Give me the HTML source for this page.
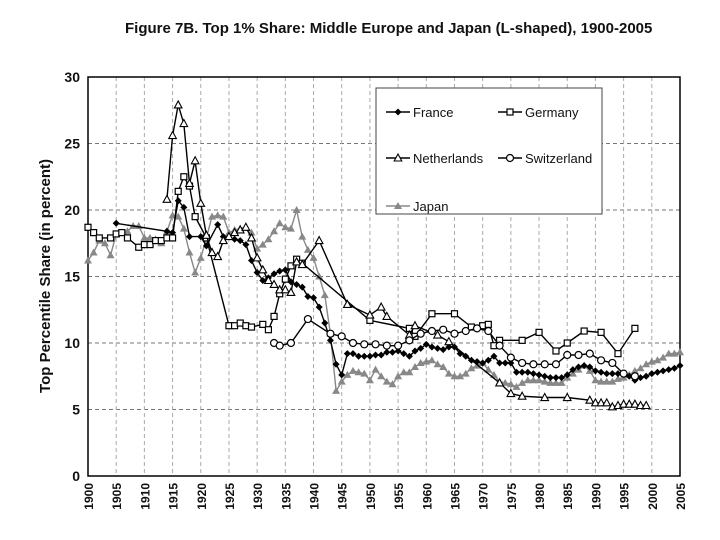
<!DOCTYPE html>
<html><head><meta charset="utf-8"><style>
body{margin:0;background:#fff;}
svg{display:block;font-family:"Liberation Sans",Arial,sans-serif;}
</style></head><body>
<svg id="chart" width="720" height="540" viewBox="0 0 720 540" xmlns="http://www.w3.org/2000/svg">
<text x="125" y="33" font-size="15" font-weight="bold" fill="#111">Figure 7B. Top 1% Share: Middle Europe and Japan (L-shaped), 1900-2005</text>
<text transform="translate(50,276) rotate(-90)" text-anchor="middle" font-size="15" font-weight="bold" fill="#111">Top Percentile Share (in percent)</text>
<g id="grid"></g>
<g id="axes"></g>
<g id="series"></g>
<g id="legend"></g>
</svg>
<script>
const yTicks=[0,5,10,15,20,25,30];
const xTicks=[1900,1905,1910,1915,1920,1925,1930,1935,1940,1945,1950,1955,1960,1965,1970,1975,1980,1985,1990,1995,2000,2005];
const franceYears=[1905,1914,1915,1916,1917,1918,1920,1921,1923,1924,1926,1927,1928,1929,1930,1931,1932,1933,1934,1935,1936,1937,1938,1939,1940,1941,1942,1943,1944,1945,1946,1947,1948,1949,1950,1951,1952,1953,1954,1955,1956,1957,1958,1959,1960,1961,1962,1963,1964,1965,1966,1967,1968,1969,1970,1971,1972,1973,1974,1975,1976,1977,1978,1979,1980,1981,1982,1983,1984,1985,1986,1987,1988,1989,1990,1991,1992,1993,1994,1995,1996,1997,1998,1999,2000,2001,2002,2003,2004,2005];
const franceValues=[19.0,18.4,18.3,20.7,20.2,18.0,18.0,17.3,18.9,18.0,17.8,17.7,17.4,16.2,15.3,14.7,14.9,15.2,15.4,15.5,14.6,14.4,14.2,13.5,13.4,12.7,11.5,10.2,8.4,7.6,9.2,9.2,9.0,9.0,9.0,9.1,9.1,9.3,9.3,9.4,9.2,9.0,9.4,9.6,9.9,9.7,9.6,9.5,9.7,9.7,9.2,9.0,8.7,8.6,8.5,8.7,9.0,8.5,8.5,8.5,7.8,7.8,7.8,7.7,7.6,7.5,7.4,7.4,7.4,7.6,8.0,8.2,8.3,8.2,7.9,7.8,7.7,7.7,7.7,7.7,7.5,7.2,7.4,7.5,7.7,7.8,7.9,8.0,8.1,8.3];
const germanyYears=[1900,1901,1902,1904,1905,1906,1907,1909,1910,1911,1912,1913,1914,1915,1916,1917,1918,1919,1921,1925,1926,1927,1928,1929,1931,1932,1933,1934,1935,1936,1937,1938,1950,1957,1958,1961,1965,1968,1970,1971,1972,1973,1977,1980,1983,1985,1988,1991,1994,1997];
const germanyValues=[18.7,18.3,17.9,17.9,18.2,18.3,17.9,17.2,17.4,17.4,17.7,17.7,17.9,17.9,21.4,22.5,21.8,19.5,17.9,11.3,11.3,11.5,11.3,11.2,11.4,11.0,12.0,13.7,14.8,15.8,16.3,16.0,11.7,11.1,10.5,12.2,12.2,11.2,11.3,11.4,9.8,10.2,10.2,10.8,9.4,10.0,10.9,10.8,9.2,11.1];
const netherlandsYears=[1914,1915,1916,1917,1918,1919,1920,1921,1922,1923,1924,1925,1926,1927,1928,1929,1930,1931,1932,1933,1934,1935,1936,1937,1938,1941,1946,1950,1952,1953,1957,1958,1962,1964,1973,1975,1977,1981,1985,1989,1990,1991,1992,1993,1994,1995,1996,1997,1998,1999];
const netherlandsValues=[20.8,25.6,27.9,26.5,22.0,23.7,20.5,18.1,16.8,16.5,17.7,18.0,18.3,18.5,18.7,17.9,16.4,15.5,14.7,14.4,14.0,14.0,13.8,16.1,15.9,17.7,12.9,12.1,12.7,12.0,10.6,11.3,10.6,10.1,7.0,6.2,6.0,5.9,5.9,5.7,5.5,5.5,5.5,5.2,5.3,5.4,5.4,5.4,5.3,5.3];
const switzerlandYears=[1933,1934,1936,1939,1943,1945,1947,1949,1951,1953,1955,1957,1959,1961,1963,1965,1967,1969,1971,1973,1975,1977,1979,1981,1983,1985,1987,1989,1991,1993,1995,1997];
const switzerlandValues=[10.0,9.8,10.0,11.8,10.7,10.5,10.0,9.9,9.9,9.8,9.8,10.2,10.7,10.9,11.0,10.7,10.9,11.1,10.9,9.8,8.9,8.5,8.4,8.4,8.4,9.1,9.1,9.2,8.7,8.5,7.7,7.5];
const japanYears=[1900,1901,1902,1903,1904,1905,1906,1907,1908,1909,1910,1911,1912,1913,1914,1915,1916,1917,1918,1919,1920,1921,1922,1923,1924,1925,1926,1927,1928,1929,1930,1931,1932,1933,1934,1935,1936,1937,1938,1939,1940,1941,1942,1943,1944,1945,1946,1947,1948,1949,1950,1951,1952,1953,1954,1955,1956,1957,1958,1959,1960,1961,1962,1963,1964,1965,1966,1967,1968,1969,1970,1971,1972,1973,1974,1975,1976,1977,1978,1979,1980,1981,1982,1983,1984,1985,1986,1987,1988,1989,1990,1991,1992,1993,1994,1995,1996,1997,1998,1999,2000,2001,2002,2003,2004,2005];
const japanValues=[16.2,16.8,17.7,17.5,16.6,18.2,18.3,18.4,18.8,18.8,17.9,17.9,17.8,17.5,18.4,19.6,19.5,18.6,16.8,15.3,16.4,17.9,19.5,19.6,19.5,18.3,18.5,18.6,18.7,18.3,17.1,17.4,17.8,18.4,19.0,18.7,18.6,20.0,18.0,17.0,16.4,15.0,13.6,10.7,6.4,7.1,7.6,7.9,7.8,7.7,7.2,8.0,7.5,7.1,6.9,7.5,7.8,7.8,8.2,8.5,8.6,8.7,8.4,8.2,7.7,7.5,7.5,7.7,8.1,8.3,8.5,8.0,7.6,7.1,7.0,6.9,6.7,7.0,7.2,7.2,7.2,7.1,7.0,7.0,7.0,7.4,7.7,8.0,8.3,7.9,7.2,7.1,7.1,7.1,7.3,7.4,7.6,7.9,8.1,8.4,8.6,8.7,8.9,9.2,9.2,9.3];

const X0=88,X1=680,Y0=476,Y1=77;
const xs=y=>X0+(y-1900)*(X1-X0)/105;
const ys=v=>Y0-v*(Y0-Y1)/30;
const NS="http://www.w3.org/2000/svg";
function mk(parent,tag,attrs){const e=document.createElementNS(NS,tag);for(const k in attrs)e.setAttribute(k,attrs[k]);parent.appendChild(e);return e;}
const grid=document.getElementById('grid'),axes=document.getElementById('axes'),ser=document.getElementById('series'),leg=document.getElementById('legend');
yTicks.forEach(t=>{
  if(t>0&&t<30){const l=mk(grid,'line',{x1:X0,x2:X1,y1:ys(t),y2:ys(t),stroke:'#777','stroke-dasharray':'4,3','stroke-width':1});
  
  }
  const tx=mk(axes,'text',{x:X0-8,y:ys(t)+5,'text-anchor':'end','font-size':14,'font-weight':'bold',fill:'#111'});
  tx.textContent=t;
  
  
});
xTicks.forEach(t=>{
  if(t>1900&&t<2005){const l=mk(grid,'line',{x1:xs(t),x2:xs(t),y1:Y1,y2:Y0,stroke:'#aaa','stroke-dasharray':'4,3','stroke-width':1});
  
  }
  const tx=mk(axes,'text',{transform:`translate(${xs(t)+5},483) rotate(-90)`,'text-anchor':'end','font-size':12,'font-weight':'bold',fill:'#111'});
  tx.textContent=t;
  
  
});
const frame=mk(axes,'rect',{x:X0,y:Y1,width:X1-X0,height:Y0-Y1,fill:'none',stroke:'#000','stroke-width':1.5});



function marker(g,type,x,y,color){
  let m;
  if(type==='diamond')m=mk(g,'path',{d:`M${x},${y-3.5}L${x+3.5},${y}L${x},${y+3.5}L${x-3.5},${y}Z`,fill:color});
  else if(type==='square')m=mk(g,'rect',{x:x-3,y:y-3,width:6,height:6,fill:'#fff',stroke:color,'stroke-width':1.2});
  else if(type==='tri')m=mk(g,'path',{d:`M${x},${y-4}L${x+3.8},${y+3}L${x-3.8},${y+3}Z`,fill:'#fff',stroke:color,'stroke-width':1.1});
  else if(type==='circle')m=mk(g,'circle',{cx:x,cy:y,r:3.5,fill:'#fff',stroke:color,'stroke-width':1.2});
  else m=mk(g,'path',{d:`M${x},${y-4}L${x+4},${y+3}L${x-4},${y+3}Z`,fill:color});
  
  
}
const defs=[
 ['japan',japanYears,japanValues,'#888','ftri'],
 ['france',franceYears,franceValues,'#000','diamond'],
 ['germany',germanyYears,germanyValues,'#000','square'],
 ['netherlands',netherlandsYears,netherlandsValues,'#000','tri'],
 ['switzerland',switzerlandYears,switzerlandValues,'#000','circle']];
defs.forEach(([n,yr,vals,c,t])=>{
  const g=mk(ser,'g',{});
  
  
  const pts=yr.map((y,i)=>xs(y).toFixed(1)+','+ys(vals[i]).toFixed(1)).join(' ');
  const pl=mk(g,'polyline',{points:pts,fill:'none',stroke:c,'stroke-width':1.4});
  
  
  yr.forEach((y,i)=>marker(g,t,xs(y),ys(vals[i]),c));
});
// legend
const box=mk(leg,'rect',{x:376,y:88,width:226,height:126,fill:'#fff',stroke:'#444','stroke-width':1});


const entries=[['France',386,112,'#000','diamond'],['Germany',498,112,'#000','square'],['Netherlands',386,158,'#000','tri'],['Switzerland',498,158,'#000','circle'],['Japan',386,206,'#888','ftri']];
entries.forEach(([lab,x,y,c,t])=>{
  const g=mk(leg,'g',{});
  
  
  mk(g,'line',{x1:x,x2:x+24,y1:y,y2:y,stroke:c,'stroke-width':1.4});
  marker(g,t,x+12,y,c);
  const tx=mk(g,'text',{x:x+27,y:y+5,'font-size':13,fill:'#111'});
  tx.textContent=lab;
  
  
});
</script>
</body></html>
